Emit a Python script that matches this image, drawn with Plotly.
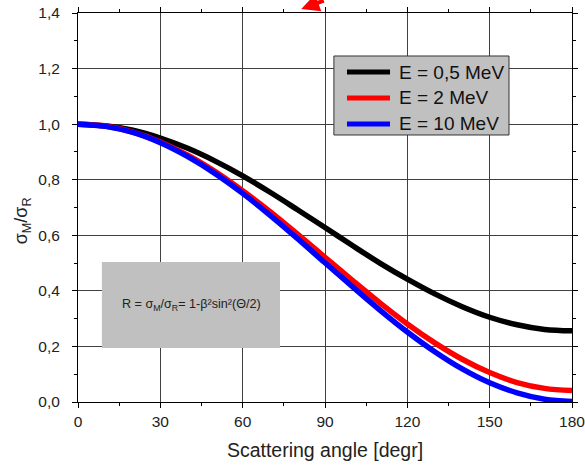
import plotly.graph_objects as go

angles = [0, 10, 20, 30, 40, 50, 60, 70, 80, 90, 100, 110, 120, 130, 140, 150, 160, 170, 180]
ratio_05MeV = [1.000, 0.994, 0.978, 0.950, 0.913, 0.867, 0.814, 0.755, 0.692, 0.628, 0.563, 0.500, 0.442, 0.389, 0.343, 0.305, 0.278, 0.261, 0.256]
ratio_2MeV = [1.000, 0.993, 0.971, 0.936, 0.888, 0.829, 0.760, 0.685, 0.604, 0.521, 0.438, 0.357, 0.281, 0.213, 0.154, 0.106, 0.070, 0.049, 0.041]
ratio_10MeV = [1.000, 0.992, 0.970, 0.933, 0.883, 0.822, 0.751, 0.672, 0.588, 0.501, 0.415, 0.331, 0.252, 0.181, 0.119, 0.069, 0.033, 0.010, 0.002]
series_names = ["E = 0,5 MeV", "E = 2 MeV", "E = 10 MeV"]
series_colors = ["#000000", "#ff0000", "#0000ff"]
x_ticks = [0, 30, 60, 90, 120, 150, 180]
y_ticks = [0.0, 0.2, 0.4, 0.6, 0.8, 1.0, 1.2, 1.4]

FONT = "Liberation Sans, Arial"

fig = go.Figure()
for name, color, ys in zip(series_names, series_colors, [ratio_05MeV, ratio_2MeV, ratio_10MeV]):
    fig.add_trace(go.Scatter(x=angles, y=ys, mode="lines", name=name, showlegend=False,
                             line=dict(color=color, width=5.5, shape="spline")))
# empty trace so the label-only axis is drawn
fig.add_trace(go.Scatter(x=[], y=[], yaxis="y2", showlegend=False, hoverinfo="skip"))

axis_common = dict(showline=True, linecolor="black", linewidth=1, mirror="ticks",
                   showgrid=True, gridcolor="#404040", gridwidth=1, zeroline=False,
                   ticks="outside", ticklen=5, tickcolor="black", automargin=False,
                   ticklabeloverflow="allow",
                   tickfont=dict(family=FONT, size=15.5, color="#222"))

fig.update_xaxes(range=[0, 180], tickvals=x_ticks,
                 minor=dict(dtick=15, ticks="outside", ticklen=3, tickcolor="black", showgrid=False),
                 title=dict(text="Scattering angle [degr]", font=dict(family=FONT, size=19.5, color="#222"), standoff=14),
                 **axis_common)
fig.update_layout(yaxis=dict(range=[0, 1.4], tickvals=y_ticks, showticklabels=False,
                             minor=dict(dtick=0.1, ticks="outside", ticklen=3, tickcolor="black", showgrid=False),
                             **axis_common))
# label-only overlay axis to place tick labels further from the axis line
fig.update_layout(yaxis2=dict(overlaying="y", side="left", range=[0, 1.4], tickvals=y_ticks,
                              tickformat=".1f", ticks="outside", ticklen=14, tickcolor="rgba(0,0,0,0)",
                              showgrid=False, showline=False, zeroline=False, automargin=False,
                              tickfont=dict(family=FONT, size=15.5, color="#222")))

# y-axis title placed as rotated text
fig.add_annotation(xref="paper", yref="paper", x=-0.113, y=0.465, xanchor="center", yanchor="middle",
                   text="σ<sub>M</sub>/σ<sub>R</sub>", showarrow=False, textangle=-90,
                   font=dict(family=FONT, size=18, color="#222"))

# formula box
fig.add_shape(type="rect", xref="x", yref="y", x0=8.7, x1=73.6, y0=0.194, y1=0.504,
              fillcolor="#c0c0c0", line=dict(width=0), layer="above")
fig.add_annotation(xref="x", yref="y", x=41.2, y=0.35, showarrow=False,
                   text="R = σ<sub>M</sub>/σ<sub>R</sub>= 1-β²sin²(Θ/2)",
                   font=dict(family=FONT, size=12.6, color="#222"))

# legend drawn as a box
fig.add_shape(type="rect", xref="paper", yref="paper", x0=0.518, x1=0.8725, y0=0.6864, y1=0.8895,
              fillcolor="#c0c0c0", line=dict(color="#333", width=1), layer="above")
legend_rows = [0.8483, 0.7815, 0.7147]
for name, color, yr in zip(series_names, series_colors, legend_rows):
    fig.add_shape(type="line", xref="paper", yref="paper", x0=0.5445, x1=0.6316, y0=yr, y1=yr,
                  line=dict(color=color, width=5), layer="above")
    fig.add_annotation(xref="paper", yref="paper", x=0.6457, y=yr, xanchor="left", yanchor="middle",
                       text=name, showarrow=False, font=dict(family=FONT, size=19, color="#111"))

# red arrow at top
fig.add_annotation(xref="paper", yref="paper", x=0.452, y=1.01, ax=24, ay=-18,
                   showarrow=True, arrowhead=2, arrowsize=0.9, arrowwidth=4, arrowcolor="#ff0000", text="")

fig.update_layout(
    width=585, height=468,
    margin=dict(l=78, r=13, t=13, b=66, autoexpand=False),
    paper_bgcolor="white", plot_bgcolor="white",
    separators=",.",
    showlegend=False,
)

fig.write_html("out.html")
